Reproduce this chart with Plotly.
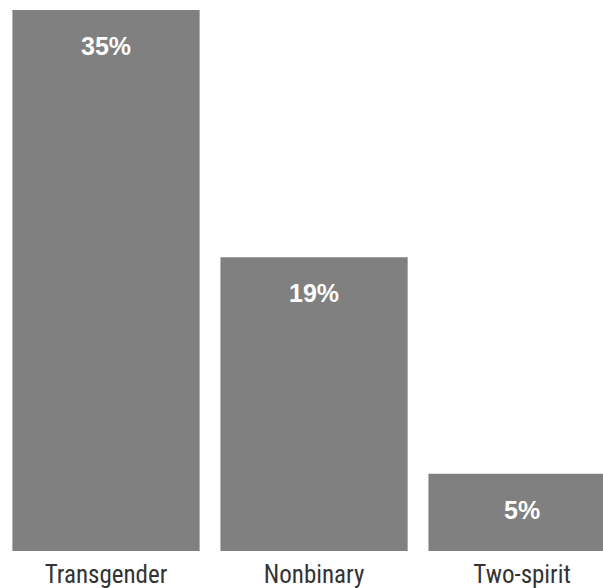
import plotly.graph_objects as go

categories = ["Transgender", "Nonbinary", "Two-spirit"]
values = [35, 19, 5]
labels = ["35%", "19%", "5%"]

bar_color = "#808080"

fig = go.Figure()
fig.add_trace(go.Bar(
    x=categories, y=values,
    marker=dict(color=bar_color, line=dict(width=0)),
    width=0.9,
    hoverinfo="skip",
))

for c, v, t in zip(categories, values, labels):
    fig.add_annotation(
        x=c, y=v, xref="x", yref="y", text="<b>%s</b>" % t,
        showarrow=False, yanchor="middle", yshift=-36,
        font=dict(family="Liberation Sans, Arial", size=25, color="white"),
    )

fig.update_layout(
    width=603, height=588,
    margin=dict(l=2, r=0, t=10, b=37),
    paper_bgcolor="white", plot_bgcolor="white",
    showlegend=False,
    bargap=0.1,
    xaxis=dict(
        range=[-0.5, 2.389], showgrid=False, zeroline=False, showline=False,
        ticks="", ticklabelstandoff=6,
        tickfont=dict(family="Roboto Condensed, Roboto", size=25, color="#333333"),
        fixedrange=True,
    ),
    yaxis=dict(range=[0, 35], visible=False, fixedrange=True),
)

fig.write_html(
    "out.html",
    config={"displayModeBar": False},
    post_script="document.body.style.margin='0';document.body.style.overflow='hidden';",
)
